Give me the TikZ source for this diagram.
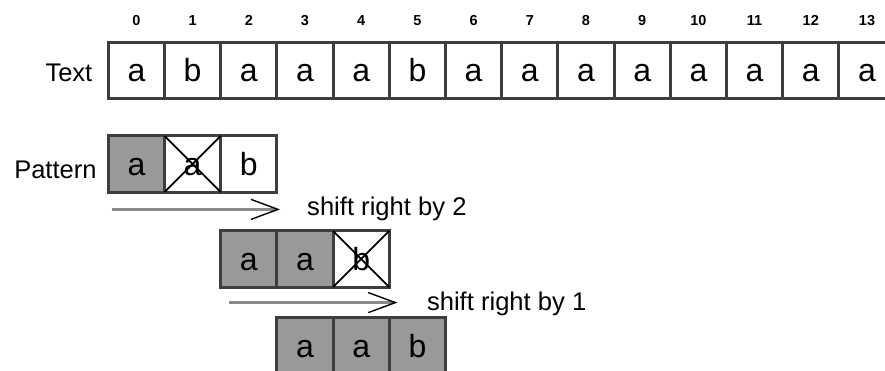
\documentclass[tikz,border=0pt]{standalone}
\usepackage{fontspec}
\setmainfont{Liberation Sans}
\usetikzlibrary{arrows.meta, positioning}

\definecolor{cellline}{RGB}{62,62,62}
\definecolor{cellfill}{RGB}{153,153,153}
\definecolor{shaftgray}{RGB}{138,138,138}

\begin{document}
\begin{tikzpicture}[x=1pt, y=1pt,
        cell/.style={draw=cellline, line width=3pt, minimum size=56.2pt, inner sep=0pt, outer sep=0pt,
            text height=23pt, text depth=0pt, font=\fontsize{32}{38}\selectfont},
        hit/.style={cell, fill=cellfill},
        index/.style={font=\fontsize{14.5}{18}\selectfont\bfseries},
        rowname/.style={anchor=base east, inner sep=0pt, font=\fontsize{25.5}{30}\selectfont},
        note/.style={anchor=base west, inner sep=0pt, font=\fontsize{25.6}{30}\selectfont},
        crossed/.style={line width=1.8pt},
        shiftarrow/.style={draw=shaftgray, line width=3.2pt,
            -{Straight Barb[length=27pt, width=20pt, line width=1.4pt, color=black]}}]

        \useasboundingbox (0,0) rectangle (885,371);

        % Text row, with the index of each cell above it
        \foreach \ch [count=\i from 0] in {a,b,a,a,a,b,a,a,a,a,a,a,a,a} {
            \node[cell] (t\i) at (136.4+56.2*\i, 300.7) {\ch};
            \node[index] (n\i) at ([yshift=22pt]t\i.north) {\i};
        }
        \node[rowname] (textname) at (92.5, 289.3) {Text};

        % Pattern, first try at position 0
        \node[hit] (pa0) at (136.4, 207) {a};
        \node[cell, right=0pt of pa0] (pa1) {a};
        \node[cell, right=0pt of pa1] (pa2) {b};
        \draw[crossed] (pa1.north west) -- (pa1.south east) (pa1.south west) -- (pa1.north east);
        \node[rowname] (patname) at (96.7, 192.7) {Pattern};

        % Pattern shifted to position 2
        \node[hit] (pb0) at (248.8, 112) {a};
        \node[hit, right=0pt of pb0] (pb1) {a};
        \node[cell, right=0pt of pb1] (pb2) {b};
        \draw[crossed] (pb2.north west) -- (pb2.south east) (pb2.south west) -- (pb2.north east);

        % Pattern shifted to position 3
        \node[hit] (pc0) at (305, 25) {a};
        \node[hit, right=0pt of pc0] (pc1) {a};
        \node[hit, right=0pt of pc1] (pc2) {b};

        % Shift arrows
        \coordinate (s1) at ([shift={(3.4,-17.3)}]pa0.south west);
        \coordinate (e1) at ([shift={(3.1,-17.3)}]pa2.south east);
        \draw[shiftarrow] (s1) -- (e1);
        \node[note] (m1) at ([shift={(27,-6.2)}]e1) {shift right by 2};

        \coordinate (s2) at ([shift={(8.6,-15.5)}]pb0.south west);
        \coordinate (e2) at ([shift={(8,-15.5)}]pb2.south east);
        \draw[shiftarrow] (s2) -- (e2);
        \node[note] (m2) at ([shift={(29.5,-7.9)}]e2) {shift right by 1};
\end{tikzpicture}
\end{document}
